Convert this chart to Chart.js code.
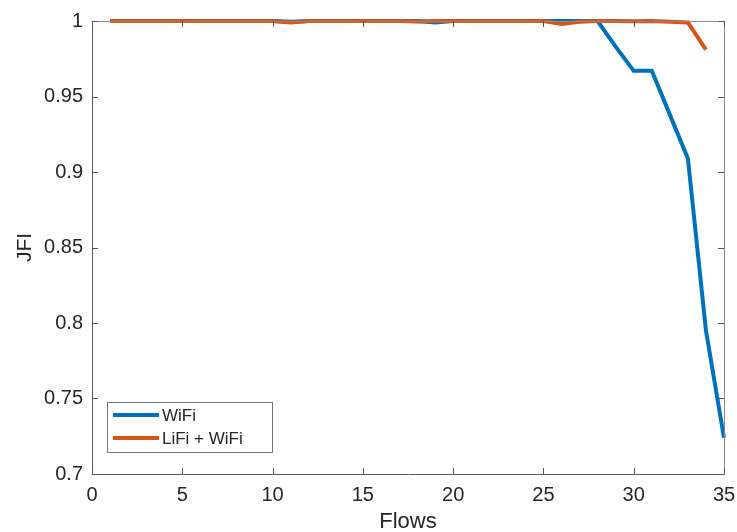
<!DOCTYPE html>
<html>
<head>
<meta charset="utf-8">
<script src="https://cdn.jsdelivr.net/npm/chart.js@4/dist/chart.umd.min.js"></script>
<style>
  html, body { margin: 0; padding: 0; background: #fff; }
  #wrap { width: 737px; height: 532px; }
</style>
</head>
<body>
<div id="wrap"><canvas id="grafico"></canvas></div>
<script>
// number of flows on the x axis
const flujos = [1, 2, 3, 4, 5, 6, 7, 8, 9, 10, 11, 12, 13, 14, 15, 16, 17, 18,
  19, 20, 21, 22, 23, 24, 25, 26, 27, 28, 29, 30, 31, 32, 33, 34, 35];

// Jain's fairness index per number of flows
const jfiWifi = [1, 1, 1, 1, 1, 1, 1, 1, 1, 1, 0.9995, 1, 1, 1, 1, 1, 1, 1,
  0.999, 1, 1, 1, 1, 1, 1, 1, 1, 1, 0.983, 0.967, 0.967, 0.938, 0.909, 0.795, 0.724];
const jfiLifiWifi = [1, 1, 1, 1, 1, 1, 1, 1, 1, 1, 0.999, 1, 1, 1, 1, 1, 1, 0.9997,
  1, 1, 1, 1, 1, 1, 1, 0.998, 0.9995, 1, 1, 0.9998, 1, 0.9995, 0.999, 0.981];

const ticksX = [0, 5, 10, 15, 20, 25, 30, 35];
const ticksY = [0.7, 0.75, 0.8, 0.85, 0.9, 0.95, 1];

const azul = '#0072BD';
const naranja = '#D95319';
const colorEjes = '#262626';
const fuente = '"Liberation Sans", Arial, Helvetica, sans-serif';

function aPuntos(valores) {
  return valores.map((v, i) => ({ x: flujos[i], y: v }));
}

// box, inner ticks and legend drawn in the MATLAB style
const estiloMatlab = {
  id: 'estiloMatlab',
  afterDatasetsDraw(chart) {
    const ctx = chart.ctx;
    const a = chart.chartArea;
    const sx = chart.scales.x;
    const sy = chart.scales.y;
    ctx.save();
    ctx.lineWidth = 1;
    ctx.strokeStyle = '#8a8a8a';
    ctx.beginPath();
    ctx.moveTo(a.left + 0.5, a.top + 0.5);
    ctx.lineTo(a.right + 0.5, a.top + 0.5);
    ctx.lineTo(a.right + 0.5, a.bottom + 0.5);
    ctx.stroke();
    ctx.strokeStyle = '#5a5a5a';
    ctx.beginPath();
    ctx.moveTo(a.left + 0.5, a.top + 0.5);
    ctx.lineTo(a.left + 0.5, a.bottom + 0.5);
    ctx.lineTo(a.right + 0.5, a.bottom + 0.5);
    ctx.stroke();

    const largo = 6;
    ctx.strokeStyle = '#555';
    ctx.beginPath();
    ticksX.forEach(t => {
      const px = Math.round(sx.getPixelForValue(t)) + 0.5;
      ctx.moveTo(px, a.bottom);
      ctx.lineTo(px, a.bottom - largo);
      ctx.moveTo(px, a.top);
      ctx.lineTo(px, a.top + largo);
    });
    ticksY.forEach(t => {
      const py = Math.round(sy.getPixelForValue(t)) + 0.5;
      ctx.moveTo(a.left, py);
      ctx.lineTo(a.left + largo, py);
      ctx.moveTo(a.right, py);
      ctx.lineTo(a.right - largo, py);
    });
    ctx.stroke();

    // legend box in the lower left corner
    const lx = a.left + 15, ly = a.bottom - 72, lw = 165, lh = 50;
    ctx.fillStyle = '#fff';
    ctx.fillRect(lx, ly, lw, lh);
    ctx.strokeStyle = '#777';
    ctx.strokeRect(lx + 0.5, ly + 0.5, lw, lh);
    ctx.font = '17px ' + fuente;
    ctx.textBaseline = 'middle';
    // WiFi first, as in the legend order
    [1, 0].forEach((idx, i) => {
      const ds = chart.data.datasets[idx];
      const yy = ly + 13 + i * 23;
      ctx.strokeStyle = ds.borderColor;
      ctx.lineWidth = 4;
      ctx.beginPath();
      ctx.moveTo(lx + 6, yy);
      ctx.lineTo(lx + 52, yy);
      ctx.stroke();
      ctx.fillStyle = colorEjes;
      ctx.fillText(ds.label, lx + 55, yy + 1);
    });
    ctx.restore();
  }
};

const ctx = document.getElementById('grafico').getContext('2d');
new Chart(ctx, {
  type: 'line',
  data: {
    datasets: [{
      label: 'LiFi + WiFi',
      data: aPuntos(jfiLifiWifi),
      borderColor: naranja,
      borderWidth: 4,
      pointRadius: 0,
      tension: 0,
      clip: false,
      order: 0
    }, {
      label: 'WiFi',
      data: aPuntos(jfiWifi),
      borderColor: azul,
      borderWidth: 4,
      pointRadius: 0,
      tension: 0,
      clip: false,
      order: 1
    }]
  },
  options: {
    responsive: true,
    maintainAspectRatio: false,
    animation: false,
    layout: { padding: { top: 20, right: 13, left: 0, bottom: 0 } },
    plugins: {
      legend: { display: false },
      tooltip: { enabled: false }
    },
    scales: {
      x: {
        type: 'linear',
        min: 0,
        max: 35,
        afterBuildTicks: s => { s.ticks = ticksX.map(v => ({ value: v })); },
        grid: { display: false, drawTicks: false },
        border: { display: false },
        ticks: {
          color: colorEjes,
          font: { family: fuente, size: 20 },
          padding: 9,
          maxRotation: 0
        },
        title: {
          display: true,
          text: 'Flows',
          color: colorEjes,
          font: { family: fuente, size: 22 },
          padding: { top: 0, bottom: -3 }
        },
        afterFit: s => {
          s.height = 58;
          s.paddingLeft = 0;
          s.paddingRight = 0;
        }
      },
      y: {
        type: 'linear',
        min: 0.7,
        max: 1,
        afterBuildTicks: s => { s.ticks = ticksY.map(v => ({ value: v })); },
        grid: { display: false, drawTicks: false },
        border: { display: false },
        ticks: {
          color: colorEjes,
          font: { family: fuente, size: 20 },
          padding: 9,
          callback: v => String(Number(v.toFixed(2)))
        },
        title: {
          display: true,
          text: 'JFI',
          color: colorEjes,
          font: { family: fuente, size: 21 },
          padding: { top: 13, bottom: 0 }
        },
        afterFit: s => { s.width = 92; }
      }
    }
  },
  plugins: [estiloMatlab]
});
</script>
</body>
</html>
